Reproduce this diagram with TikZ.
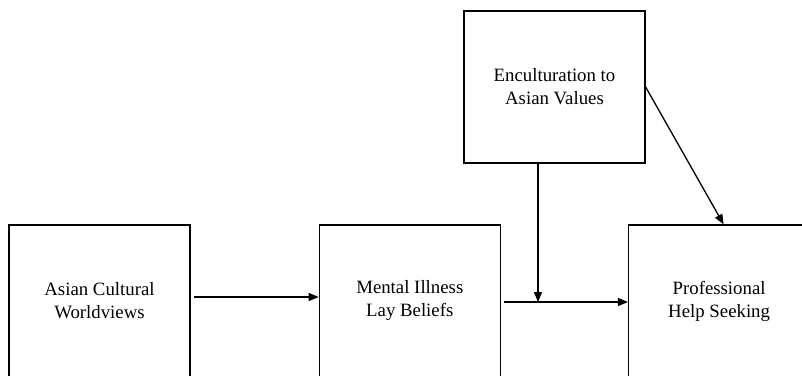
\documentclass[tikz,border=0pt]{standalone}
\usepackage{fontspec}
\setmainfont{Liberation Serif}
\usepackage{tikz}
\usetikzlibrary{arrows.meta, positioning, calc}

\tikzset{
    factor/.style={draw=black, fill=white, line width=1.3pt, minimum width=181pt, minimum height=152pt,
        align=center, inner sep=0pt, font=\fontsize{18.8}{23}\selectfont},
    path arrow/.style={line width=1.3pt, -{Triangle[length=10pt,width=8pt]}}
}

\begin{document}
\begin{tikzpicture}[x=1pt, y=1pt]
                \useasboundingbox (0,0) rectangle (802,375);
                \clip (0,0) rectangle (802,375);
                \node[factor] (worldviews) at (99.5,74) {Asian Cultural\\Worldviews};
                \node[factor, right=128pt of worldviews] (laybeliefs) {Mental Illness\\Lay Beliefs};
                \node[factor, right=127pt of laybeliefs] (helpseeking) {Professional\\Help Seeking};
                \node[factor] (enculturation) at (554.5,288) {Enculturation to\\Asian Values};

                % moderation meets the lay beliefs path here
                \coordinate (moderation) at (538,73);

                \draw[path arrow] ([xshift=3pt,yshift=4pt]worldviews.east) -- ([yshift=4pt]laybeliefs.west);
                \draw[path arrow] ([xshift=3pt]laybeliefs.east |- moderation) -- (helpseeking.west |- moderation);
                \draw[path arrow] (enculturation.south -| moderation) -- (moderation);
                \draw[path arrow] (enculturation.east) -- ([xshift=4.5pt]helpseeking.north);
            \end{tikzpicture}
\end{document}
